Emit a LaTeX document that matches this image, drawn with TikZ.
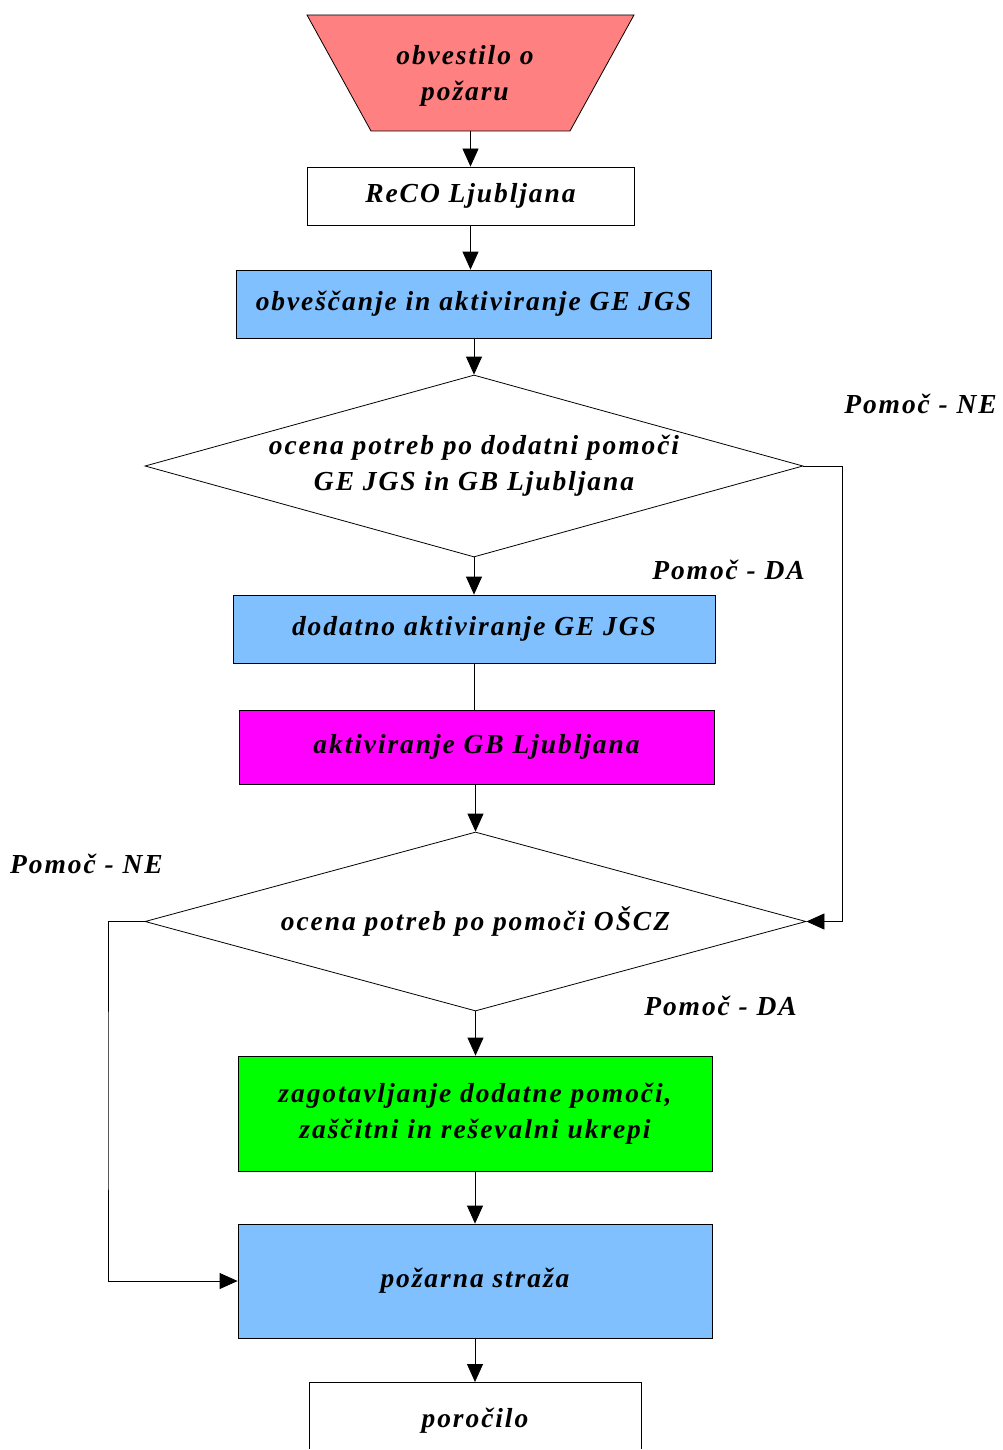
\documentclass[tikz,border=0pt]{standalone}
\usepackage{fontspec}
\setmainfont{Liberation Serif}
\newfontfamily\lblfont[LetterSpace=7]{Liberation Serif}
\usetikzlibrary{shapes.geometric,arrows.meta}
\definecolor{cblue}{HTML}{80C0FF}
\definecolor{csalmon}{HTML}{FF8080}
\definecolor{cmag}{HTML}{FF00FF}
\definecolor{cgreen}{HTML}{00FF00}
\tikzset{
  txt/.style={font=\lblfont\bfseries\itshape\fontsize{27.5}{36}\selectfont, align=center},
  box/.style={txt, draw, line width=0.8pt, inner sep=0pt},
  dia/.style={txt, diamond, draw, line width=0.8pt, inner sep=0pt},
  arr/.style={line width=0.8pt, -{Triangle[length=18pt,width=16pt]}},
  ln/.style={line width=0.8pt},
  lab/.style={txt, inner sep=0pt},
}
\begin{document}
\begin{tikzpicture}[x=1pt,y=-1pt]
\useasboundingbox (0,0) rectangle (1002,1450);
\filldraw[fill=csalmon, line width=0.8pt] (307,15) -- (634,15) -- (570,131) -- (371,131) -- cycle;
\node[txt, minimum width=199pt, minimum height=116pt, inner sep=0pt] (start) at (470.5,73) {};
\node[txt] (starttext) at (465,76) {obvestilo o\\požaru};
\node[box, minimum width=327pt, minimum height=58pt] (reco) at (470.5,196) {ReCO Ljubljana};
\node[box, fill=cblue, minimum width=475pt, minimum height=68pt] (obv) at (473.5,304) {obveščanje in aktiviranje GE JGS};
\node[dia, shape aspect=3.615, minimum width=658pt, minimum height=182pt] (d1) at (474,466) {ocena potreb po dodatni pomoči\\GE JGS in GB Ljubljana};
\node[box, fill=cblue, minimum width=482pt, minimum height=68pt] (dod) at (474,629) {dodatno aktiviranje GE JGS};
\node[box, fill=cmag, minimum width=475pt, minimum height=74pt] (gb) at (476.5,747) {aktiviranje GB Ljubljana};
\node[dia, shape aspect=3.69, minimum width=661pt, minimum height=179pt] (d2) at (475.5,921.5) {ocena potreb po pomoči OŠCZ};
\node[box, fill=cgreen, minimum width=474pt, minimum height=115pt] (zag) at (475,1113.5) {zagotavljanje dodatne pomoči,\\zaščitni in reševalni ukrepi};
\node[box, fill=cblue, minimum width=474pt, minimum height=114pt] (ps) at (475,1281) {požarna straža};
\node[box, minimum width=332pt, minimum height=76pt, anchor=north] (por) at (475,1382) {poročilo};
\draw[white, line width=2pt] (308,1450) -- (642,1450);
\node[lab, anchor=east] (l1) at (997,404) {Pomoč - NE};
\node[lab, anchor=east] (l2) at (805,570) {Pomoč - DA};
\node[lab, anchor=west] (l3) at (10,864) {Pomoč - NE};
\node[lab, anchor=east] (l4) at (797,1006) {Pomoč - DA};
\coordinate (r) at (842,700);
\coordinate (l) at (108,1100);
\draw[arr] (start.south -| reco.north) -- (reco.north);
\draw[arr] (reco.south) -- (reco.south |- obv.north);
\draw[arr] (obv.south -| d1.north) -- (d1.north);
\draw[arr] (d1.south) -- (d1.south |- dod.north);
\draw[ln] (dod.south -| d1.south) -- (gb.north -| d1.south);
\draw[arr] (gb.south -| d2.north) -- (d2.north);
\draw[arr] (d2.south) -- (d2.south |- zag.north);
\draw[arr] (zag.south) -- (ps.north);
\draw[arr] (ps.south) -- (ps.south |- por.north);
\draw[arr] (d1.east) -| (r) |- (d2.east);
\draw[arr] (d2.west) -| (l) |- (ps.west);
\end{tikzpicture}
\end{document}
